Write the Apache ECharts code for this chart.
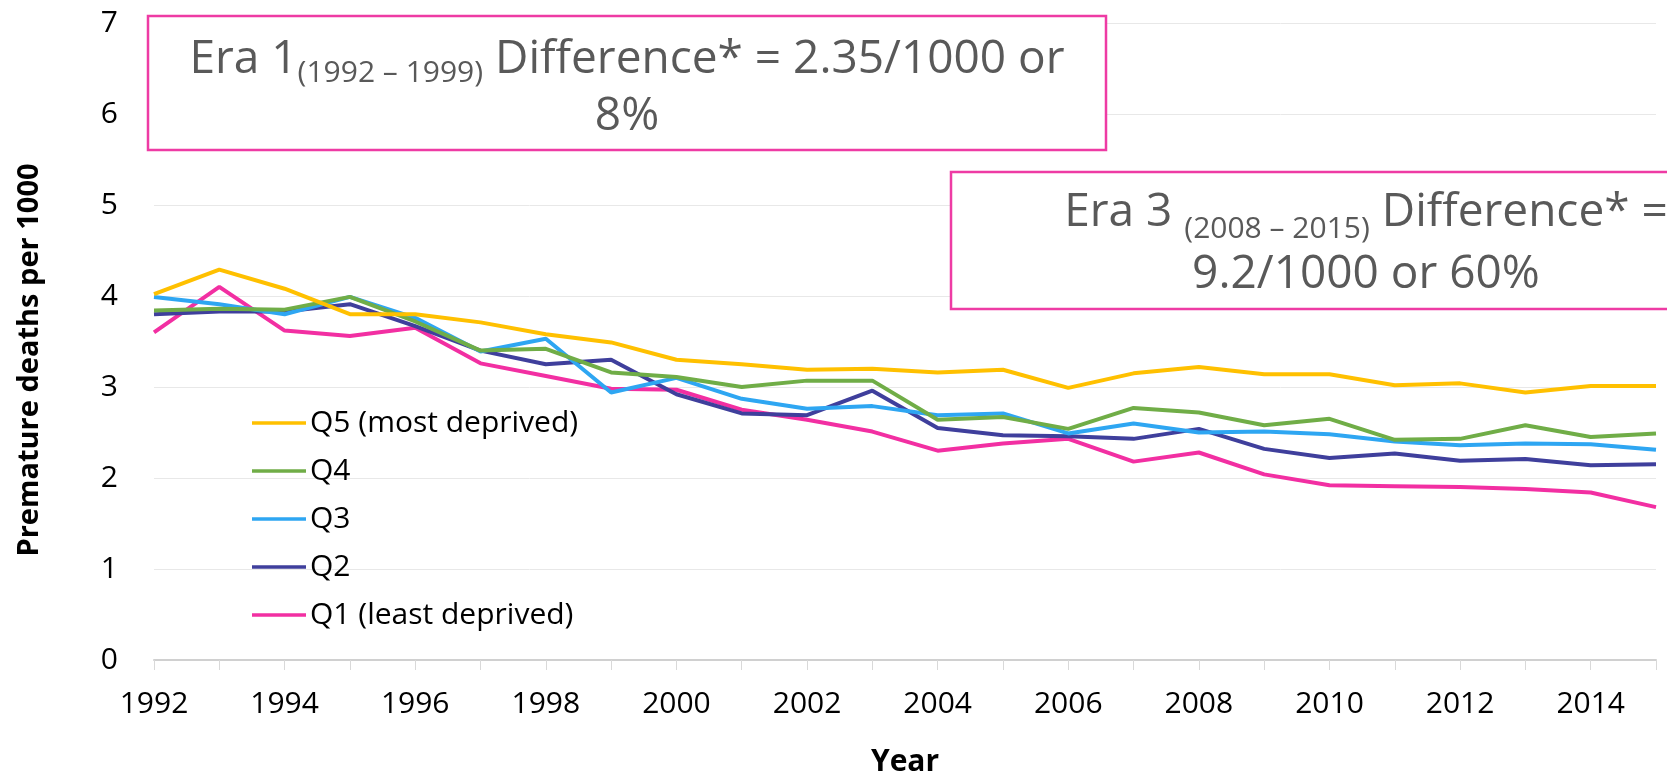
<!DOCTYPE html>
<html lang="en">
<head>
    <meta charset="UTF-8">
    <title>Premature deaths by deprivation quintile</title>
    <script src="https://cdn.jsdelivr.net/npm/echarts@6/dist/echarts.min.js"></script>
    <style>
        html, body{
            margin: 0;
            padding: 0;
            background: #fff;
        }
        #main{
            width: 1667px;
            height: 775px;
        }
    </style>
</head>
<body>
<div id="main"></div>
<script>
    var years = ['1992','1993','1994','1995','1996','1997','1998','1999','2000','2001','2002','2003',
                 '2004','2005','2006','2007','2008','2009','2010','2011','2012','2013','2014','2015'];
    var yTicks = [0, 1, 2, 3, 4, 5, 6, 7];

    var q5 = [4.02, 4.29, 4.08, 3.80, 3.80, 3.71, 3.58, 3.49, 3.30, 3.25, 3.19, 3.20,
              3.16, 3.19, 2.99, 3.15, 3.22, 3.14, 3.14, 3.02, 3.04, 2.94, 3.01, 3.01];
    var q4 = [3.84, 3.86, 3.85, 3.99, 3.72, 3.40, 3.42, 3.16, 3.11, 3.00, 3.07, 3.07,
              2.64, 2.67, 2.54, 2.77, 2.72, 2.58, 2.65, 2.42, 2.43, 2.58, 2.45, 2.49];
    var q3 = [3.99, 3.91, 3.80, 3.99, 3.76, 3.39, 3.53, 2.94, 3.10, 2.87, 2.76, 2.79,
              2.69, 2.71, 2.49, 2.60, 2.50, 2.51, 2.48, 2.40, 2.36, 2.38, 2.37, 2.31];
    var q2 = [3.80, 3.83, 3.83, 3.91, 3.67, 3.40, 3.25, 3.30, 2.92, 2.71, 2.69, 2.96,
              2.55, 2.47, 2.46, 2.43, 2.54, 2.32, 2.22, 2.27, 2.19, 2.21, 2.14, 2.15];
    var q1 = [3.60, 4.10, 3.62, 3.56, 3.65, 3.26, 3.12, 2.98, 2.97, 2.75, 2.64, 2.51,
              2.30, 2.38, 2.43, 2.18, 2.28, 2.04, 1.92, 1.91, 1.90, 1.88, 1.84, 1.68];

    var names = ['Q5 (most deprived)', 'Q4', 'Q3', 'Q2', 'Q1 (least deprived)'];
    var colors = ['#FFC000', '#70AD47', '#2EA6F2', '#3F3F9C', '#F22FA2'];
    var values = [q5, q4, q3, q2, q1];

    var font = '"Open Sans", "Noto Sans", sans-serif';
    var boxColor = '#EE3BA4';
    var noteColor = '#595959';

    var chart = echarts.init(document.getElementById('main'));

    var series = [];
    for (var i = values.length - 1; i >= 0; i--) {
        series.push({
            name: names[i],
            type: 'line',
            data: values[i],
            symbol: 'none',
            lineStyle: {width: 4, color: colors[i]},
            itemStyle: {color: colors[i]}
        });
    }

    // subscript sits lower in the second box, so each box gets its own pair
    var rich = {
        a: {fontSize: 46, fontFamily: font, fill: noteColor, lineHeight: 57},
        s: {fontSize: 30, fontFamily: font, fill: noteColor, lineHeight: 16, verticalAlign: 'bottom'},
        b: {fontSize: 46, fontFamily: font, fill: noteColor, lineHeight: 62},
        t: {fontSize: 30, fontFamily: font, fill: noteColor, lineHeight: 6, verticalAlign: 'bottom'}
    };

    chart.setOption({
        animation: false,
        textStyle: {fontFamily: font},
        grid: {left: 154, right: 11, top: 23, bottom: 115, outerBoundsMode: 'none'},
        legend: {
            orient: 'vertical',
            left: 252,
            top: 408,
            padding: 0,
            data: names,
            icon: 'rect',
            itemWidth: 54,
            itemHeight: 3.5,
            itemGap: 18,
            textStyle: {fontSize: 30, color: '#000', fontFamily: font, padding: [0, 0, 0, -1]}
        },
        xAxis: {
            type: 'category',
            data: years,
            boundaryGap: false,
            name: 'Year',
            nameLocation: 'middle',
            nameGap: 87,
            nameTextStyle: {fontSize: 30, fontWeight: 'bold', color: '#000'},
            axisLine: {lineStyle: {color: '#D0D0D0', width: 2}},
            axisTick: {show: true, interval: 0, length: 10, lineStyle: {color: '#D9D9D9'}},
            axisLabel: {interval: 1, fontSize: 30, color: '#000', margin: 29}
        },
        yAxis: {
            type: 'value',
            min: yTicks[0],
            max: yTicks[yTicks.length - 1],
            interval: 1,
            name: 'Premature deaths per 1000',
            nameLocation: 'middle',
            nameGap: 110,
            nameTextStyle: {fontSize: 29, fontWeight: 'bold', color: '#000', padding: [0, 37, 0, 0]},
            axisLine: {show: false},
            axisTick: {show: false},
            axisLabel: {fontSize: 30, color: '#000', margin: 36},
            splitLine: {lineStyle: {color: '#E8E8E8', width: 1}}
        },
        graphic: [
            {
                type: 'rect', z: 100,
                shape: {x: 148, y: 16, width: 958, height: 134},
                style: {fill: '#fff', stroke: boxColor, lineWidth: 2.5}
            },
            {
                type: 'text', z: 101, x: 627, y: 88,
                style: {
                    text: '{a|Era 1}{s|(1992 – 1999)}{a| Difference* = 2.35/1000 or}\n{a|8%}',
                    rich: rich, align: 'center', verticalAlign: 'middle'
                }
            },
            {
                type: 'rect', z: 100,
                shape: {x: 951, y: 172, width: 830, height: 137},
                style: {fill: '#fff', stroke: boxColor, lineWidth: 2.5}
            },
            {
                type: 'text', z: 101, x: 1366, y: 244,
                style: {
                    text: '{b|Era 3 }{t|(2008 – 2015)}{b| Difference* =}\n{b|9.2/1000 or 60%}',
                    rich: rich, align: 'center', verticalAlign: 'middle'
                }
            }
        ],
        series: series
    });
</script>
</body>
</html>
